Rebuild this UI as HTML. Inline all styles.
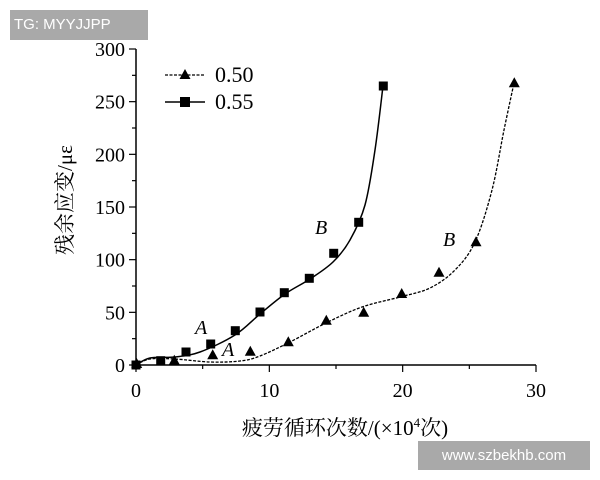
<!DOCTYPE html>
<html><head><meta charset="utf-8"><style>
body{margin:0;background:#fff;width:600px;height:480px;overflow:hidden;position:relative}
.wm{position:absolute;background:#a9a9a9;color:#fff;font-family:"Liberation Sans",sans-serif;font-size:15px;line-height:30px}
</style></head><body>
<svg id="s" width="600" height="480" style="position:absolute;left:0;top:0" font-family="Liberation Serif, serif">
<g stroke="#000" stroke-width="1.5" fill="none">
<line x1="136" y1="49" x2="136" y2="365"/>
<line x1="136" y1="365" x2="536" y2="365"/>
</g>
<g id="ticks" stroke="#000" stroke-width="1.2"></g>
<g font-size="20" text-anchor="end" id="yl"></g>
<g font-size="20" text-anchor="middle" id="xl"></g>
<path id="c1" fill="none" stroke="#000" stroke-width="1.5"/>
<path id="c2" fill="none" stroke="#000" stroke-width="1.3" stroke-dasharray="3,1.5"/>
<g id="m"></g>
<g font-size="20" font-style="italic">
<text x="195" y="334">A</text><text x="222" y="356">A</text>
<text x="315" y="234">B</text><text x="443" y="246">B</text>
</g>
<line x1="165" y1="75" x2="205" y2="75" stroke="#000" stroke-width="1.2" stroke-dasharray="3,1.5"/>
<polygon points="185,69 179.5,79 190.5,79"/>
<line x1="165" y1="102" x2="205" y2="102" stroke="#000" stroke-width="1.5"/>
<rect x="180" y="97" width="10" height="10"/>
<text x="215" y="82" font-size="22">0.50</text>
<text x="215" y="109" font-size="22">0.55</text>
<text x="345" y="435" font-size="21" text-anchor="middle" font-family="Liberation Serif, Noto Serif CJK SC, serif">疲劳循环次数/(×10<tspan font-size="13" dy="-8">4</tspan><tspan dy="8">次)</tspan></text>
<text transform="translate(72,200) rotate(-90)" font-size="21" text-anchor="middle" font-family="Liberation Serif, Noto Serif CJK SC, serif">残余应变/με</text>
</svg>
<div class="wm" style="left:10px;top:10px;width:138px;padding-left:4px;box-sizing:border-box">TG: MYYJJPP</div>
<div class="wm" style="left:418px;top:441px;width:172px;height:29px;line-height:29px;text-align:center">www.szbekhb.com</div>
<script>
const NS="http://www.w3.org/2000/svg";
function el(p,t,a,txt){const e=document.createElementNS(NS,t);for(const k in a)e.setAttribute(k,a[k]);if(txt!=null)e.textContent=txt;document.getElementById(p).appendChild(e);}
const X=v=>136+v*400/30, Y=v=>365-v*316/300;
for(let v=0;v<=300;v+=25){const y=Y(v);el("ticks","line",{x1:136,x2:v%50?132:129,y1:y,y2:y});if(v%50==0)el("yl","text",{x:125,y:y+7},v);}
for(let v=0;v<=30;v+=5){const x=X(v);el("ticks","line",{x1:x,x2:x,y1:365,y2:v%10?369:372});if(v%10==0)el("xl","text",{x:x,y:397},v);}
function cr(p){let d=`M${p[0][0]},${p[0][1]}`;for(let i=0;i<p.length-1;i++){const a=p[Math.max(0,i-1)],b=p[i],c=p[i+1],e=p[Math.min(p.length-1,i+2)];d+=` C${b[0]+(c[0]-a[0])/6},${b[1]+(c[1]-a[1])/6} ${c[0]-(e[0]-b[0])/6},${c[1]-(e[1]-b[1])/6} ${c[0]},${c[1]}`;}return d;}
document.getElementById("c1").setAttribute("d",cr([[136,365],[150,358],[175,357],[200,352],[235,335],[260,314],[285,294],[310,279],[333,262],[350,240],[365,205],[375,150],[383,86]]));
document.getElementById("c2").setAttribute("d",cr([[136,365],[150,359],[175,359],[210,362],[240,361],[260,356],[290,342],[326,323],[362,307],[400,297],[430,288],[455,270],[475,242],[492,190],[504,130],[514,83]]));
[[136,365],[160.7,360.7],[186,352],[210.7,344],[235.3,330.7],[260,312],[284.3,292.7],[309.3,278.3],[333.7,253.3],[358.7,222.3],[383.3,86]].forEach(p=>el("m","rect",{x:p[0]-4.5,y:p[1]-4.5,width:9,height:9}));
[[136.7,364],[174.3,360.7],[212.7,355.3],[250.3,351.7],[288.3,342.3],[326.3,320.7],[363.7,312.7],[401.7,294],[439,272.7],[476,242.3],[514.3,83.3]].forEach(p=>el("m","polygon",{points:`${p[0]},${p[1]-6} ${p[0]-5.5},${p[1]+4} ${p[0]+5.5},${p[1]+4}`}));
</script>
</body></html>
